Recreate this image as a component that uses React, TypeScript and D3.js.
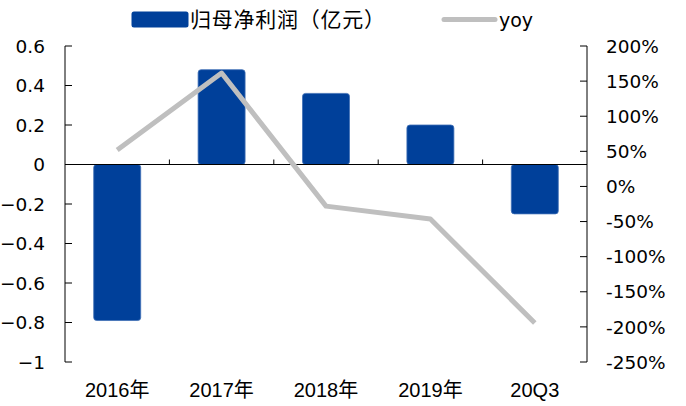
import React from "react";
import * as d3 from "d3";

const categories = ["2016年", "2017年", "2018年", "2019年", "20Q3"];
const profit = [-0.79, 0.48, 0.36, 0.2, -0.25];
const yoy = [0.52, 1.615, -0.28, -0.465, -1.945];
const leftTicks = [0.6, 0.4, 0.2, 0, -0.2, -0.4, -0.6, -0.8, -1];
const rightTicks = [2, 1.5, 1, 0.5, 0, -0.5, -1, -1.5, -2, -2.5];

const W = 686;
const H = 406;
const m = { left: 65, right: 587, top: 46, bottom: 362 };
const BAR = "#00409A";
const LINE = "#BFBFBF";
const FONT = "'DejaVu Sans', Verdana, sans-serif";
const XFONT = "'Liberation Sans', 'Noto Sans CJK SC', sans-serif";

export default function App() {
  const x = d3.scaleBand().domain(categories).range([m.left, m.right]).paddingInner(0).paddingOuter(0);
  const yL = d3.scaleLinear().domain([-1, 0.6]).range([m.bottom, m.top]);
  const yR = d3.scaleLinear().domain([-2.5, 2]).range([m.bottom, m.top]);
  const bw = x.bandwidth() * 0.45;
  const line = d3
    .line<number>()
    .x((_, i) => (x(categories[i]) as number) + x.bandwidth() / 2)
    .y((d) => yR(d));
  const y0 = yL(0);
  const fmtL = (v: number) => (v === 0 ? "0" : d3.format(".1f")(v).replace(/\.0$/, ""));
  const fmtR = (v: number) => `${Math.round(v * 100)}%`;

  return (
    <svg width={W} height={H} style={{ position: "absolute", left: 0, top: 0, background: "#fff" }}>
      {/* bars */}
      {profit.map((v, i) => {
        const cx = (x(categories[i]) as number) + x.bandwidth() / 2;
        const top = Math.min(yL(v), y0);
        const h = Math.abs(yL(v) - y0);
        return (
          <rect key={i} x={cx - bw / 2} y={top} width={bw} height={h} rx={3} fill={BAR} stroke="#3f6fb5" strokeWidth={0.8} />
        );
      })}
      {/* category axis at zero */}
      <line x1={m.left} x2={m.right} y1={y0} y2={y0} stroke="#000" strokeWidth={1} />
      {categories.slice(1).map((c) => (
        <line key={c} x1={x(c) as number} x2={x(c) as number} y1={y0} y2={y0 - 5} stroke="#000" />
      ))}
      {/* line */}
      <path d={line(yoy) || ""} fill="none" stroke={LINE} strokeWidth={5} strokeLinejoin="round" />
      {/* left axis */}
      <line x1={m.left} x2={m.left} y1={m.top} y2={m.bottom} stroke="#000" />
      {leftTicks.map((t) => (
        <g key={t}>
          <line x1={m.left} x2={m.left + 7} y1={yL(t)} y2={yL(t)} stroke="#000" />
          <text x={45} y={yL(t)} dy="0.36em" textAnchor="end" fontSize={18.5} fontFamily={FONT} fill="#000">
            {fmtL(t)}
          </text>
        </g>
      ))}
      {/* right axis */}
      <line x1={m.right} x2={m.right} y1={m.top} y2={m.bottom} stroke="#000" />
      {rightTicks.map((t) => (
        <g key={t}>
          <line x1={m.right - 7} x2={m.right} y1={yR(t)} y2={yR(t)} stroke="#000" />
          <text x={606} y={yR(t)} dy="0.36em" textAnchor="start" fontSize={18.5} fontFamily={FONT} fill="#000">
            {fmtR(t)}
          </text>
        </g>
      ))}
      {/* category labels */}
      {categories.map((c) => (
        <text key={c} x={(x(c) as number) + x.bandwidth() / 2} y={397} textAnchor="middle" fontSize={20} fontFamily={XFONT} fill="#000">
          {c}
        </text>
      ))}
      {/* legend */}
      <rect x={131.5} y={11.5} width={57} height={16} rx={2.5} fill={BAR} />
      <text
        x={190}
        y={27}
        fontSize={21}
        fontFamily="'Noto Sans CJK SC', sans-serif"
        fill="#000"
        textLength={195}
        lengthAdjust="spacing"
      >
        归母净利润（亿元）
      </text>
      <line x1={444} x2={495} y1={19.5} y2={19.5} stroke={LINE} strokeWidth={5} strokeLinecap="round" />
      <text x={499} y={27} fontSize={19} fontFamily={FONT} fill="#000">
        yoy
      </text>
    </svg>
  );
}
